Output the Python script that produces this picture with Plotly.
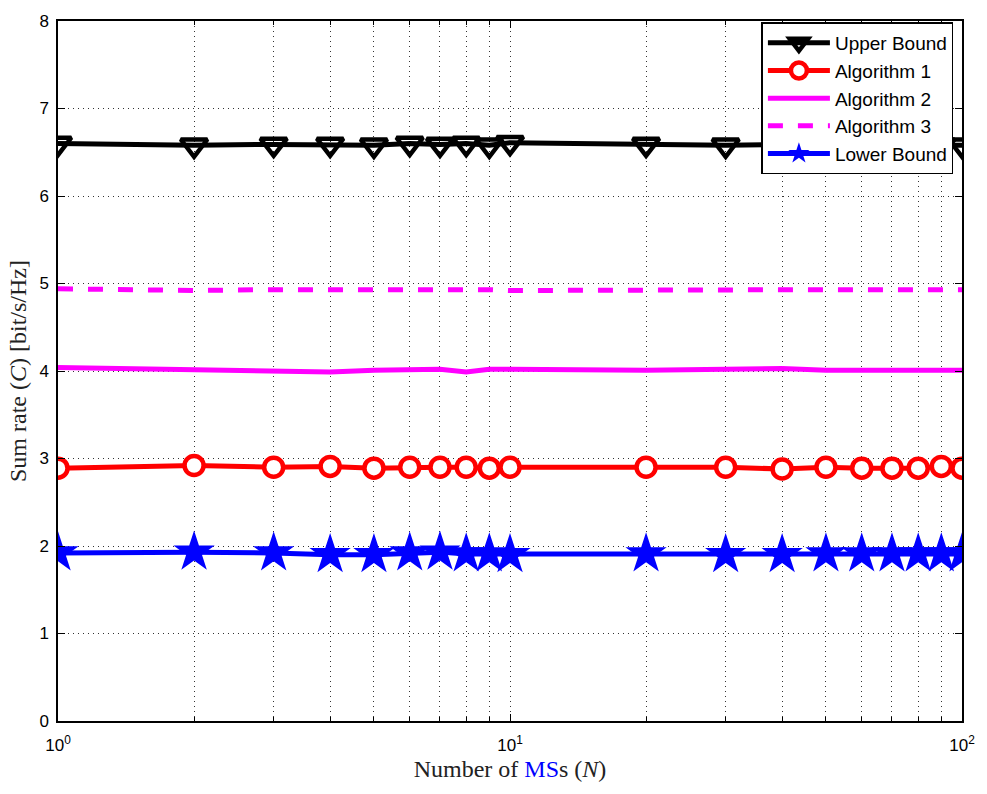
import plotly.graph_objects as go

x_ms = [1, 2, 3, 4, 5, 6, 7, 8, 9, 10, 20, 30, 40, 50, 60, 70, 80, 90, 100]

upper_bound = [6.60, 6.58, 6.59, 6.59, 6.58, 6.60, 6.59, 6.60, 6.58, 6.61,
               6.59, 6.58, 6.59, 6.59, 6.58, 6.59, 6.59, 6.58, 6.58]
algorithm1 = [2.89, 2.92, 2.90, 2.91, 2.89, 2.90, 2.90, 2.90, 2.89, 2.90,
              2.90, 2.90, 2.88, 2.90, 2.89, 2.89, 2.89, 2.91, 2.89]
algorithm2 = [4.04, 4.01, 4.00, 3.99, 4.01, 4.02, 4.02, 3.99, 4.02, 4.02,
              4.01, 4.02, 4.03, 4.01, 4.01, 4.01, 4.01, 4.00, 4.01]
algorithm3 = [4.94, 4.92, 4.93, 4.93, 4.93, 4.93, 4.93, 4.94, 4.93, 4.92,
              4.93, 4.93, 4.93, 4.93, 4.93, 4.93, 4.93, 4.93, 4.93]
lower_bound = [1.92, 1.93, 1.92, 1.90, 1.90, 1.92, 1.93, 1.91, 1.91, 1.90,
               1.91, 1.90, 1.90, 1.91, 1.91, 1.91, 1.91, 1.91, 1.91]

x_major = [1, 10, 100]
x_major_text = ["10<sup>0</sup>", "10<sup>1</sup>", "10<sup>2</sup>"]
x_minor = [2, 3, 4, 5, 6, 7, 8, 9, 20, 30, 40, 50, 60, 70, 80, 90]
y_ticks = [0, 1, 2, 3, 4, 5, 6, 7, 8]

fig = go.Figure()
fig.add_trace(go.Scatter(x=x_ms, y=upper_bound, name="Upper Bound", mode="lines+markers",
                         line=dict(color="black", width=5),
                         marker=dict(symbol="triangle-down-open", size=23, color="black",
                                     line=dict(width=4.5, color="black"))))
fig.add_trace(go.Scatter(x=x_ms, y=algorithm1, name="Algorithm 1", mode="lines+markers",
                         line=dict(color="red", width=5),
                         marker=dict(symbol="circle", size=19, color="white",
                                     line=dict(width=4.5, color="red"))))
fig.add_trace(go.Scatter(x=x_ms, y=algorithm2, name="Algorithm 2", mode="lines",
                         line=dict(color="#ff00ff", width=5)))
fig.add_trace(go.Scatter(x=x_ms, y=algorithm3, name="Algorithm 3", mode="lines",
                         line=dict(color="#ff00ff", width=5, dash="dash")))
fig.add_trace(go.Scatter(x=x_ms, y=lower_bound, name="Lower Bound", mode="lines+markers",
                         line=dict(color="blue", width=5),
                         marker=dict(symbol="star", size=31, color="blue",
                                     line=dict(width=0))))

axis_common = dict(showline=True, linecolor="black", linewidth=1.5, mirror="ticks",
                   ticks="inside", ticklen=7, tickcolor="black",
                   showgrid=True, gridcolor="#333", griddash="1px,4px", gridwidth=1,
                   zeroline=False, tickfont=dict(family="Liberation Sans, Arial", size=17, color="black"))

fig.update_xaxes(type="log", range=[0, 2], tickmode="array", tickvals=x_major, ticktext=x_major_text,
                 ticklabelstandoff=8,
                 minor=dict(tickmode="array", tickvals=x_minor, ticks="inside", ticklen=4,
                            tickcolor="black", showgrid=True, gridcolor="#333", griddash="1px,4px"),
                 title=dict(text="Number of <span style='color:blue'>MS</span>s (<i>N</i>)",
                            font=dict(family="Liberation Serif, Times New Roman", size=24, color="#222"),
                            standoff=6),
                 **axis_common)
fig.update_yaxes(range=[0, 8], tickmode="array", tickvals=y_ticks, ticklabelstandoff=4,
                 title=dict(text="Sum rate (<i>C</i>) [bit/s/Hz]",
                            font=dict(family="Liberation Serif, Times New Roman", size=24, color="#222"),
                            standoff=6),
                 **axis_common)

fig.update_layout(width=987, height=794, plot_bgcolor="white", paper_bgcolor="white",
                  margin=dict(l=58, r=21, t=14, b=73),
                  legend=dict(x=0.9905, y=0.998, xanchor="right", yanchor="top",
                              bgcolor="white", bordercolor="black", borderwidth=1.5,
                              font=dict(family="Liberation Sans, Arial", size=19, color="black"),
                              itemwidth=62, tracegroupgap=0))

fig.write_html("out.html")
